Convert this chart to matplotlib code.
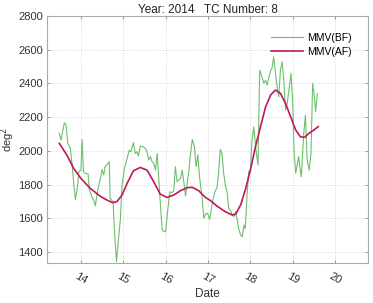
import matplotlib
matplotlib.use('Agg')
import matplotlib.pyplot as plt
from matplotlib.ticker import MultipleLocator

plt.rcParams.update({
    "font.family": ["Liberation Sans", "DejaVu Sans"],
    "font.size": 8,
})

# MMV before filtering (day of month, deg^2)
bf_day = [13.49, 13.53, 13.61, 13.65, 13.69, 13.75, 13.79, 13.83, 13.87, 13.92,
          13.95, 14.00, 14.03, 14.06, 14.10, 14.17, 14.20, 14.26, 14.30, 14.34,
          14.39, 14.46, 14.50, 14.54, 14.57, 14.63, 14.67, 14.69, 14.76, 14.79,
          14.84, 14.87, 14.93, 14.97, 15.02, 15.09, 15.14, 15.18, 15.24, 15.28,
          15.32, 15.36, 15.40, 15.47, 15.52, 15.56, 15.60, 15.64, 15.68, 15.72,
          15.76, 15.80, 15.84, 15.88, 15.92, 15.97, 16.00, 16.05, 16.10, 16.14,
          16.19, 16.23, 16.27, 16.31, 16.35, 16.39, 16.43, 16.47, 16.51, 16.55,
          16.58, 16.63, 16.68, 16.72, 16.76, 16.80, 16.86, 16.90, 16.95, 16.99,
          17.04, 17.10, 17.14, 17.18, 17.21, 17.25, 17.29, 17.33, 17.37, 17.41,
          17.45, 17.49, 17.53, 17.57, 17.61, 17.65, 17.69, 17.73, 17.77, 17.81,
          17.85, 17.88, 17.92, 17.96, 18.00, 18.04, 18.08, 18.13, 18.18, 18.22,
          18.26, 18.32, 18.36, 18.40, 18.44, 18.48, 18.51, 18.55, 18.59, 18.63,
          18.67, 18.71, 18.75, 18.79, 18.83, 18.87, 18.91, 18.96, 19.00, 19.03,
          19.07, 19.11, 19.14, 19.17, 19.20, 19.22, 19.26, 19.30, 19.34, 19.39,
          19.43, 19.47, 19.51, 19.54, 19.58]
bf_val = [2104, 2064, 2167, 2153, 2045, 2015, 1926, 1807, 1712, 1788,
          1877, 1886, 2068, 1877, 1867, 1863, 1768, 1728, 1709, 1673,
          1758, 1837, 1890, 1857, 1906, 1922, 1936, 1718, 1699, 1531,
          1343, 1432, 1590, 1788, 1886, 1956, 2005, 1995, 2049, 1985,
          1995, 1970, 2029, 2025, 2015, 1995, 1946, 1966, 1936, 1926,
          1886, 1985, 1827, 1669, 1531, 1521, 1521, 1649, 1758, 1752,
          1762, 1906, 1817, 1827, 1837, 1886, 1817, 1732, 1807, 1886,
          1966, 2068, 2025, 1906, 1976, 1847, 1728, 1600, 1629, 1629,
          1594, 1689, 1738, 1768, 1778, 1867, 2009, 1985, 1867, 1797,
          1758, 1659, 1649, 1620, 1610, 1639, 1590, 1531, 1501, 1491,
          1560, 1540, 1728, 1877, 1886, 2064, 2143, 2010, 1916, 2479,
          2450, 2401, 2420, 2391, 2440, 2479, 2490, 2558, 2470, 2380,
          2321, 2480, 2529, 2420, 2242, 2282, 2361, 2460, 2282, 2005,
          1867, 1926, 1966, 1900, 1847, 1926, 2104, 2213, 1946, 1887,
          1985, 2401, 2322, 2233, 2341]

# MMV after filtering
af_day = [13.49, 13.67, 13.83, 14.00, 14.22, 14.45, 14.61, 14.75, 14.85, 14.97,
          15.09, 15.24, 15.40, 15.56, 15.72, 15.87, 16.03, 16.19, 16.35, 16.51,
          16.63, 16.78, 16.94, 17.06, 17.21, 17.41, 17.57, 17.65, 17.77, 17.88,
          18.00, 18.12, 18.24, 18.36, 18.48, 18.59, 18.71, 18.83, 18.95, 19.07,
          19.18, 19.28, 19.38, 19.50, 19.60]
af_val = [2045, 1975, 1896, 1837, 1778, 1732, 1709, 1693, 1699, 1738,
          1807, 1882, 1902, 1886, 1817, 1744, 1724, 1738, 1764, 1782,
          1784, 1764, 1724, 1705, 1673, 1639, 1620, 1624, 1679, 1768,
          1886, 2025, 2144, 2262, 2332, 2361, 2341, 2282, 2203, 2124,
          2084, 2080, 2104, 2124, 2144]

x_ticks = [14, 15, 16, 17, 18, 19, 20]

fig = plt.figure(figsize=(3.73, 3.03), dpi=100)
ax = fig.add_axes([0.126, 0.132, 0.861, 0.815])

ax.plot(bf_day, bf_val, color='#6cc06a', linewidth=0.8, label='MMV(BF)')
ax.plot(af_day, af_val, color='#c2185b', linewidth=1.2, label='MMV(AF)')

ax.set_xlim(13.2, 20.78)
ax.set_ylim(1335, 2800)
ax.set_xticks(x_ticks)
ax.set_xticklabels([str(t) for t in x_ticks], rotation=-30, ha='center')
ax.yaxis.set_major_locator(MultipleLocator(200))

ax.grid(True, linestyle=':', linewidth=0.6, color='#d0d0d0')
for s in ax.spines.values():
    s.set_color('#aaaaaa')
    s.set_linewidth(0.8)
ax.tick_params(direction='in', length=2.5, width=0.6, color='#888888',
               top=True, right=True, labelcolor='#333333', pad=3)
ax.tick_params(axis='x', pad=6)

ax.set_title('Year: 2014   TC Number: 8', fontsize=8.5, pad=2, color='#222222')
ax.set_xlabel('Date', fontsize=8.5, labelpad=1, color='#333333')
ax.set_ylabel('deg$^2$', fontsize=8, color='#333333')
ax.yaxis.set_label_coords(-0.092, 0.5)

ax.legend(loc='upper right', frameon=False, fontsize=7.5, handlelength=3.0,
          handletextpad=0.4, labelspacing=0.4, borderaxespad=1.2)

fig.savefig('out.png', dpi=100)
